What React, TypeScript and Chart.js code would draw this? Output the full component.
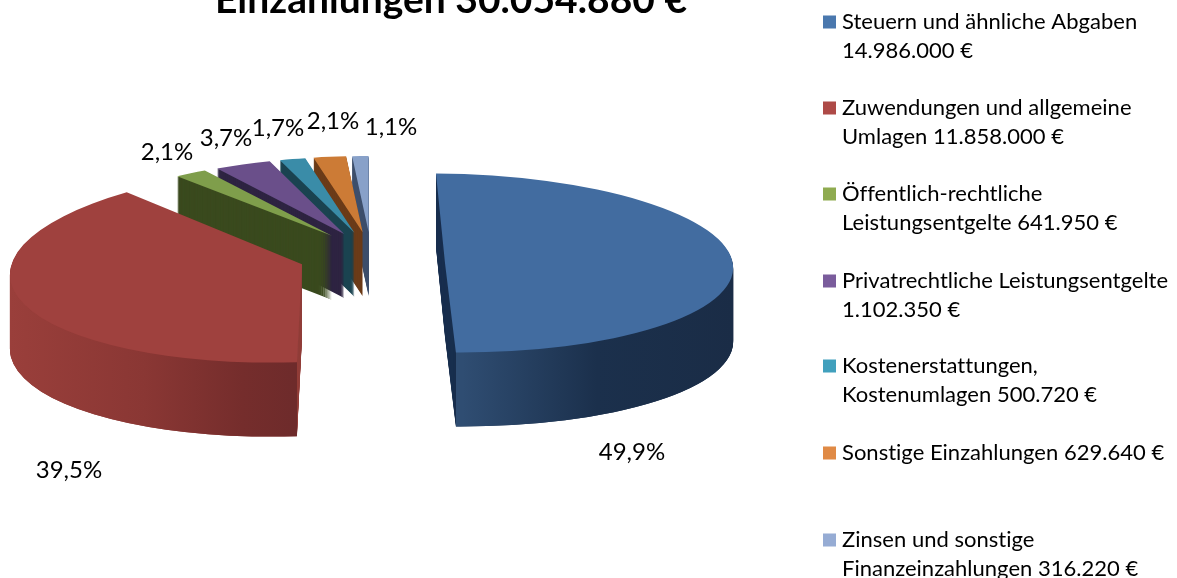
import React, { useEffect, useRef } from "react";
import { Chart, registerables } from "chart.js";

Chart.register(...registerables);

const TITLE = "Einzahlungen 30.054.880 €";
const categoryLines = [
  ["Steuern und ähnliche Abgaben", "14.986.000 €"],
  ["Zuwendungen und allgemeine", "Umlagen 11.858.000 €"],
  ["Öffentlich-rechtliche", "Leistungsentgelte 641.950 €"],
  ["Privatrechtliche Leistungsentgelte", "1.102.350 €"],
  ["Kostenerstattungen,", "Kostenumlagen 500.720 €"],
  ["Sonstige Einzahlungen 629.640 €"],
  ["Zinsen und sonstige", "Finanzeinzahlungen 316.220 €"],
];
const amounts = [14986000, 11858000, 641950, 1102350, 500720, 629640, 316220];
const percentLabels = ["49,9%", "39,5%", "2,1%", "3,7%", "1,7%", "2,1%", "1,1%"];
const topColors = ["#426ca0", "#9f413e", "#7f9e4b", "#6a4f8a", "#3a8ca8", "#cc7b36", "#88a1c9"];
const sideColors = ["#1a304f", "#93403c", "#3a4a1e", "#2e2442", "#1a4350", "#6b3b18", "#3e4f6c"];
const swatchColors = ["#4a78ae", "#ae4a47", "#8fab50", "#7a5c9c", "#41a0bd", "#e08a45", "#96acd4"];

const FONT = "Lato, 'Open Sans', sans-serif";
const R = 200;
const PIE_X = 374;
const PIE_Y = 254;
const EXPLODE = 71;
const TILT = 0.31;

// per-slice projection: matrix (p q / r s) on the unit circle, bias and extrusion
const projection = [
  { p: 288, q: 9, r: 2, s: 89.5, bx: 0, by: 9, depth: 74, wall: 1, stops: [[0.515, "#2f4d72"], [0.75, "#1b304c"], [1, "#1a2c46"]] },
  { p: 292, q: -7, r: -8, s: 98, bx: -5, by: 3, depth: 74, wall: -1, stops: [[0, "#9a3f3b"], [0.24, "#8a3734"], [0.41, "#752d2c"], [0.5, "#6e2b2b"]] },
  { p: 250, q: 0, r: 0, s: 76, bx: -2, by: 0, depth: 64, wall: 0, stops: [] },
  { p: 250, q: 0, r: 0, s: 76, bx: -1, by: 0, depth: 64, wall: 0, stops: [] },
  { p: 250, q: 0, r: 0, s: 76, bx: -2, by: 0, depth: 64, wall: 0, stops: [] },
  { p: 250, q: 0, r: 0, s: 76, bx: -2, by: 0, depth: 64, wall: 0, stops: [] },
  { p: 250, q: 0, r: 0, s: 76, bx: -3, by: 0, depth: 64, wall: 0, stops: [] },
];

const percentAnchors = [
  [632, 452], [69, 470], [167, 152], [226, 138], [278, 128], [333, 121], [391, 127],
];
const legendRows = [22, 108, 194, 281, 366, 453, 540];
const LEGEND_X = 823;
const LEGEND_TEXT_X = 842;
const LINE_GAP = 29;

function drawGhost(arc: any, ctx: CanvasRenderingContext2D, fill: any) {
  const ghost = Object.create(arc);
  ghost.options = {
    backgroundColor: fill,
    borderColor: fill,
    borderWidth: 0,
    offset: 0,
    spacing: 0,
    circular: true,
    borderRadius: 0,
    borderAlign: "center",
  };
  ghost.draw(ctx);
}

const pie3d = {
  id: "pie3d",
  beforeDatasetDraw(chart: any) {
    const ctx: CanvasRenderingContext2D = chart.ctx;
    const arcs = chart.getDatasetMeta(0).data;
    for (let i = arcs.length - 1; i >= 0; i--) {
      const arc = arcs[i];
      const pr = projection[i];
      const mid = (arc.startAngle + arc.endAngle) / 2;
      const tx = PIE_X + Math.cos(mid) * EXPLODE + pr.bx;
      const ty = PIE_Y + Math.sin(mid) * EXPLODE * TILT + pr.by;
      const place = (dy: number) => {
        ctx.translate(tx, ty + dy);
        ctx.transform(pr.p / R, pr.r / R, pr.q / R, pr.s / R, 0, 0);
        ctx.translate(-arc.x, -arc.y);
      };
      // radial faces
      for (let d = pr.depth; d >= 1; d--) {
        ctx.save();
        place(d);
        drawGhost(arc, ctx, sideColors[i]);
        ctx.restore();
      }
      // outer wall
      if (pr.wall !== 0) {
        const a = pr.wall > 0 ? arc.endAngle : arc.startAngle;
        const cornerX = tx + pr.p * Math.cos(a) + pr.q * Math.sin(a);
        ctx.save();
        ctx.beginPath();
        if (pr.wall > 0) ctx.rect(cornerX, 0, 1177 - cornerX, 578);
        else ctx.rect(0, 0, cornerX, 578);
        ctx.clip();
        const grad = ctx.createLinearGradient(arc.x - R, 0, arc.x + R, 0);
        pr.stops.forEach(([f, c]: any) => grad.addColorStop(f, c));
        for (let d = pr.depth; d >= 1; d--) {
          ctx.save();
          place(d);
          drawGhost(arc, ctx, grad);
          ctx.restore();
        }
        ctx.restore();
      }
      // top face
      ctx.save();
      place(0);
      drawGhost(arc, ctx, topColors[i]);
      ctx.restore();
    }
    return false;
  },
  afterDraw(chart: any) {
    const ctx: any = chart.ctx;
    ctx.save();
    ctx.letterSpacing = "0.01px";
    ctx.fillStyle = "#000";
    ctx.textBaseline = "alphabetic";
    ctx.textAlign = "center";
    ctx.font = `bold 39px ${FONT}`;
    ctx.fillText(TITLE, 451, 13);

    ctx.font = `24px ${FONT}`;
    ctx.textBaseline = "middle";
    percentLabels.forEach((t, i) => {
      ctx.fillText(t, percentAnchors[i][0], percentAnchors[i][1]);
    });

    ctx.textAlign = "left";
    ctx.font = `22px ${FONT}`;
    categoryLines.forEach((lines, i) => {
      const y = legendRows[i];
      ctx.fillStyle = swatchColors[i];
      ctx.fillRect(LEGEND_X, y - 6.5, 13, 13);
      ctx.fillStyle = "#000";
      lines.forEach((line, j) => ctx.fillText(line, LEGEND_TEXT_X, y + j * LINE_GAP));
    });
    ctx.restore();
  },
};

export default function App() {
  const ref = useRef<HTMLCanvasElement>(null);
  useEffect(() => {
    const chart = new Chart(ref.current as HTMLCanvasElement, {
      type: "pie",
      data: {
        labels: categoryLines.map((l) => l.join(" ")),
        datasets: [{ data: amounts, backgroundColor: topColors, borderWidth: 0 }],
      },
      options: {
        animation: false,
        responsive: false,
        radius: R,
        plugins: { legend: { display: false }, tooltip: { enabled: false } },
      } as any,
      plugins: [pie3d as any],
    });
    return () => chart.destroy();
  }, []);
  return (
    <div style={{ position: "absolute", left: 0, top: 0, width: 1177, height: 578, overflow: "hidden", background: "#fff" }}>
      <canvas ref={ref} width={1177} height={578} style={{ display: "block" }} />
    </div>
  );
}
